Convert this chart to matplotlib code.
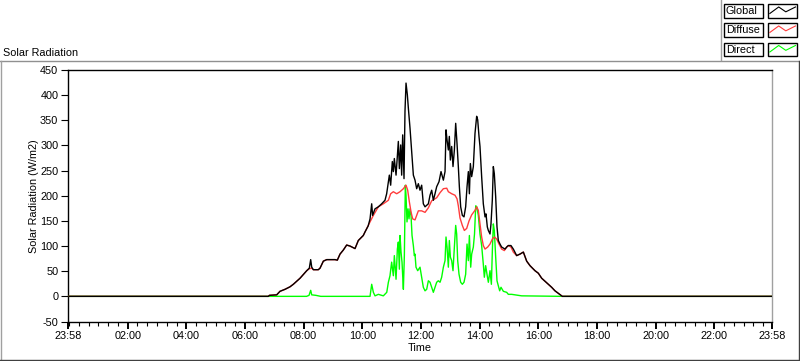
import matplotlib
matplotlib.use("Agg")
import matplotlib.pyplot as plt
from matplotlib.lines import Line2D
from matplotlib.patches import Rectangle
import numpy as np

plt.rcParams['font.family'] = ['Liberation Sans', 'DejaVu Sans']

# ---------------- data (time in minutes since 00:00, values in W/m2) ----------------
global_t = [0, 407.7, 410, 424.9, 431.6, 441.9, 452.1, 458.9, 472.6, 486.3, 491.6, 494.4, 496.5,
            499.8, 510.0, 513.5, 520.3, 527.2, 544.2, 548.9, 554.4, 561.1, 568.0, 574.8, 585.1,
            591.8, 602.0, 605.5, 612, 615.8, 619.2, 621, 626, 632.8, 639.6, 646.4, 649.8, 653.3,
            655.3, 658, 661.4, 663.5, 665.5, 669, 671.7, 673.7, 675.8, 678.5, 680.5, 682.6, 685.3,
            687.3, 689.4, 692.1, 694.2, 697.6, 701, 704.4, 707.8, 711.2, 714.6, 718, 721.4, 724.8,
            728.3, 735.1, 738.5, 741.9, 745.3, 748.7, 752.1, 756.9, 761, 765.8, 769.2, 771.2,
            773.3, 776, 778, 780.1, 782.8, 785.5, 788.3, 791, 793.7, 796.4, 798.5, 801.2, 804.6,
            808, 811.4, 814.2, 816.9, 819, 821, 823.7, 827.1, 830.5, 833.9, 836, 838.7, 840.7,
            844.1, 847.5, 851, 853, 855.7, 857.8, 861.2, 863.2, 865.9, 868, 870, 872.8, 875.5,
            878.2, 881.6, 885, 891.9, 895.3, 898.7, 904.1, 908.9, 915.7, 922.5, 929.4, 936.2,
            943, 953.2, 960, 966.9, 973.7, 980.5, 987.3, 994.1, 1001, 1009.1, 1438]
global_v = [0, 0, 2, 3, 10, 14, 19, 24, 36, 51, 56, 73, 58,
            53, 53, 56, 70, 73, 73, 72, 84, 92, 102, 100, 95,
            111, 121, 128, 140, 154, 184, 161, 174, 178, 184, 191, 204, 228,
            241, 221, 268, 248, 274, 241, 281, 308, 254, 301, 241, 321, 234,
            368, 424, 401, 374, 334, 288, 241, 231, 214, 224, 211, 221, 184,
            178, 184, 201, 211, 191, 204, 218, 228, 248, 231, 248, 331,
            311, 291, 318, 271, 298, 258, 291, 344, 304, 258, 218, 178, 161,
            158, 178, 218, 248, 204, 264, 238, 258, 324, 358, 351, 318, 298,
            238, 184, 158, 164, 138, 131, 124, 144, 191, 258, 244, 198, 138,
            111, 104, 98, 94, 98, 101, 101, 94, 81, 84, 88, 70,
            61, 51, 46, 36, 30, 24, 18, 11, 6, 0, 0]

diffuse_t = [0, 407.7, 410, 424.9, 431.6, 441.9, 452.1, 458.9, 472.6, 486.3, 491.6, 496.5, 499.8,
             510.0, 513.5, 520.3, 527.2, 544.2, 548.9, 554.4, 561.1, 568.0, 574.8, 585.1, 591.8,
             602.0, 605.5, 615.8, 622.6, 632.8, 643, 653.3, 658, 663.5, 670.3, 677.1, 684, 689.4,
             692.8, 696.2, 699.6, 703, 707.8, 714.6, 721.4, 728.3, 735.1, 741.9, 752.1, 758.9,
             765.8, 772.7, 776, 782.8, 789.6, 793.7, 796.4, 799.8, 804.6, 808.7, 813.5, 818.3,
             823.7, 830.5, 833.9, 837.3, 840.7, 844.1, 847.5, 851, 856.4, 861.2, 866, 870, 874.8,
             879.6, 885, 890.5, 895.3, 898.7, 904.1, 908.9, 915.7, 922.5, 929.4, 936.2, 943,
             953.2, 960, 966.9, 973.7, 980.5, 987.3, 994.1, 1001, 1009.1, 1438]
diffuse_v = [0, 0, 2, 3, 10, 14, 19, 24, 36, 51, 55, 56, 53,
             53, 56, 70, 73, 73, 72, 84, 92, 102, 100, 95, 111,
             121, 128, 148, 161, 178, 184, 191, 204, 208, 204, 208, 214, 221,
             211, 188, 168, 154, 152, 170, 170, 167, 176, 190, 196, 206,
             214, 215, 208, 204, 201, 194, 180, 156, 141, 131, 135, 150,
             162, 171, 178, 171, 144, 118, 101, 94, 98, 104, 114, 118, 114,
             104, 94, 91, 98, 101, 98, 88, 81, 84, 88, 70, 61,
             51, 46, 36, 30, 24, 18, 11, 6, 0, 0]

direct_t = [0, 407.7, 486, 491, 494.4, 496.5, 505, 515, 612, 615.8, 619.2, 622.6, 626, 632.8, 643,
            650, 653.3, 656.6, 660, 663.5, 665.5, 669, 671.7, 673.7, 675.8, 677.1, 679.2, 681.2,
            682.6, 684, 686, 688, 689.4, 691.4, 693.5, 695.5, 697.6, 699.6, 701.7, 704.4, 706.4,
            707.8, 709.8, 713.3, 718, 721.4, 724.8, 728.3, 731.7, 735.1, 738.5, 741.9, 745.3,
            748.7, 752.1, 755.5, 759, 762.3, 765.8, 769.2, 771.2, 773.3, 776, 778, 780.1, 782.8,
            785.5, 788.3, 791, 793, 795.1, 797.8, 801.2, 804.6, 808, 811.4, 814.2, 816.9, 819,
            821.7, 823.7, 827.1, 829.5, 832, 834, 837.3, 840.7, 844.1, 847.5, 849.6, 852.3, 855,
            857.8, 861.2, 864, 866, 868, 870, 872.8, 875.5, 878.2, 881, 883.7, 888.5, 895.3,
            898.7, 905.5, 919, 926, 1009, 1438]
direct_v = [0, 0, 0, 2, 12, 3, 2, 0, 0, 0, 24, 8, 1, 4, 1,
            8, 28, 41, 68, 41, 81, 34, 94, 108, 54, 121, 88, 68,
            41, 14, 81, 221, 201, 148, 174, 154, 174, 161, 121, 101, 81,
            84, 58, 51, 58, 38, 18, 11, 14, 31, 28, 18, 8,
            18, 28, 31, 28, 38, 58, 71, 118, 98, 58, 111, 78, 71,
            51, 98, 141, 124, 71, 44, 28, 24, 28, 44, 104, 71, 121,
            58, 84, 98, 124, 180, 178, 161, 124, 101, 64, 38, 61, 44,
            28, 51, 24, 91, 144, 131, 78, 31, 21, 11, 18, 10, 8,
            4, 4, 2, 1, 0, 0]

x_tick_pos = [-2 / 60, 2, 4, 6, 8, 10, 12, 14, 16, 18, 20, 22, 24 - 2 / 60]
x_tick_labels = ["23:58", "02:00", "04:00", "06:00", "08:00", "10:00", "12:00",
                 "14:00", "16:00", "18:00", "20:00", "22:00", "23:58"]
y_ticks = [-50, 0, 50, 100, 150, 200, 250, 300, 350, 400, 450]
series_names = ["Global", "Diffuse", "Direct"]
series_colors = ["#000000", "#FF3C3C", "#00FF00"]

# ---------------- figure ----------------
W, H = 800, 361
fig = plt.figure(figsize=(W / 100, H / 100), dpi=100)
fig.patch.set_facecolor("white")

def fx(px):
    return px / W

def fy(py):
    return 1 - py / H

ax_l, ax_r, ax_t, ax_b = 68, 772, 70, 321.5
ax = fig.add_axes([fx(ax_l), fy(ax_b), fx(ax_r) - fx(ax_l), fy(ax_t) - fy(ax_b)])

ax.plot(np.array(direct_t) / 60, direct_v, color=series_colors[2], lw=1.0, zorder=3)
ax.plot(np.array(diffuse_t) / 60, diffuse_v, color=series_colors[1], lw=1.0, zorder=4)
ax.plot(np.array(global_t) / 60, global_v, color=series_colors[0], lw=1.0, zorder=5)

ax.set_xlim(-2 / 60, 24 - 2 / 60)
ax.set_ylim(-50, 450)

fs = 7.8
ax.set_xticks(x_tick_pos)
ax.set_xticklabels(x_tick_labels, fontsize=fs)
ax.set_xticks(np.arange(0, 24, 1 / 3), minor=True)
ax.set_yticks(y_ticks)
ax.set_yticklabels([str(v) for v in y_ticks], fontsize=fs)
ax.tick_params(axis='x', which='major', length=5, width=1.4, pad=2, direction='out')
ax.tick_params(axis='x', which='minor', length=3, width=0.8, direction='out')
ax.tick_params(axis='y', which='major', length=5, width=0.8, pad=2, direction='out')

for s in ['left', 'top', 'bottom']:
    ax.spines[s].set_color('black')
    ax.spines[s].set_linewidth(1.0)
ax.spines['right'].set_color('#A0A0A0')
ax.spines['right'].set_linewidth(1.0)

ax.set_ylabel("Solar Radiation (W/m2)", fontsize=fs, labelpad=1)
ax.set_xlabel("Time", fontsize=fs, labelpad=1)

fig.text(fx(3), fy(52.5), "Solar Radiation", fontsize=fs, ha='left', va='center')

# ---------------- panel frame ----------------
def hline(y, x0, x1, c, lw=1.0):
    fig.add_artist(Line2D([fx(x0), fx(x1)], [fy(y), fy(y)], color=c, lw=lw))

def vline(x, y0, y1, c, lw=1.0):
    fig.add_artist(Line2D([fx(x), fx(x)], [fy(y0), fy(y1)], color=c, lw=lw))

hline(61, 0, 800, '#909090')
vline(1, 61, 360, '#A0A0A0')
hline(360, 0, 800, '#404040')
vline(799, 61, 360, '#404040')
vline(721, 0, 60, '#A0A0A0')

# ---------------- legend ----------------
rows_y = [4, 23, 42.5]
zig = [(0.08, 0.3), (0.38, 0.78), (0.62, 0.42), (0.95, 0.78)]
for name, col, y0 in zip(series_names, series_colors, rows_y):
    h = 13.5
    fig.add_artist(Rectangle((fx(724), fy(y0 + h)), fx(763) - fx(724), fy(y0) - fy(y0 + h),
                             fill=False, ec='black', lw=1.0, transform=fig.transFigure))
    fig.text(fx(726), fy(y0 + h / 2 + 0.5), name, fontsize=fs, ha='left', va='center')
    fig.add_artist(Rectangle((fx(767.5), fy(y0 + h)), fx(797) - fx(767.5), fy(y0) - fy(y0 + h),
                             fill=False, ec='black', lw=1.0, transform=fig.transFigure))
    xs = [fx(767.5 + p[0] * 29.5) for p in zig]
    ys = [fy(y0 + h - p[1] * h) for p in zig]
    fig.add_artist(Line2D(xs, ys, color=col, lw=0.8))

fig.savefig("out.png", dpi=100, facecolor="white")
